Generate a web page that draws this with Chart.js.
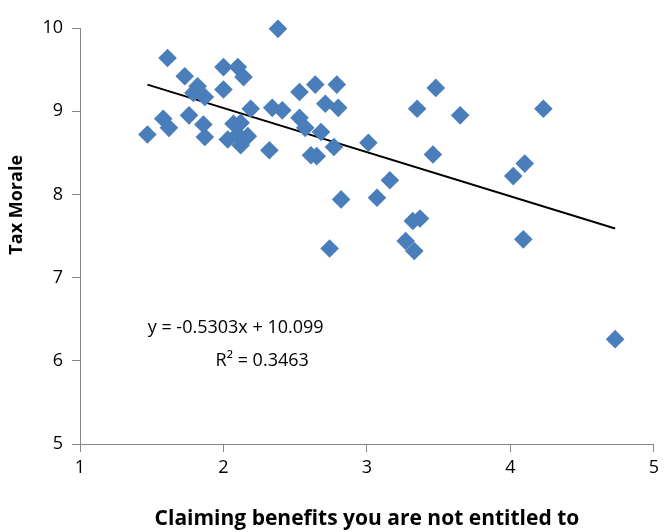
<!DOCTYPE html>
<html>
<head>
<meta charset="utf-8">
<script src="https://cdn.jsdelivr.net/npm/chart.js@4"></script>
<style>
  html, body { margin: 0; padding: 0; background: #fff; }
  #wrap { width: 664px; height: 532px; }
</style>
</head>
<body>
<div id="wrap"><canvas id="chart" width="664" height="532"></canvas></div>
<script>
// claiming benefits (x) vs tax morale (y), one point per country
const claimX = [
  1.47, 1.58, 1.62, 1.61, 1.73, 1.79, 1.82, 1.87, 1.76, 1.86, 1.87,
  2.00, 2.10, 2.14, 2.00, 2.19, 2.34, 2.41, 2.07, 2.12, 2.03, 2.10,
  2.17, 2.12, 2.32, 2.38, 2.53, 2.64, 2.79, 2.71, 2.80, 2.53, 2.57,
  2.68, 2.77, 2.61, 2.65, 3.01, 3.48, 3.35, 3.65, 3.46, 3.16, 2.82,
  3.07, 3.32, 3.37, 2.74, 3.27, 3.33, 4.23, 4.10, 4.02, 4.09, 4.73
];
const taxMorale = [
  8.72, 8.91, 8.80, 9.64, 9.42, 9.22, 9.30, 9.17, 8.95, 8.84, 8.69,
  9.53, 9.53, 9.41, 9.26, 9.03, 9.04, 9.01, 8.85, 8.86, 8.66, 8.72,
  8.70, 8.59, 8.53, 9.99, 9.23, 9.32, 9.32, 9.09, 9.04, 8.92, 8.80,
  8.75, 8.57, 8.47, 8.46, 8.62, 9.28, 9.03, 8.95, 8.48, 8.17, 7.94,
  7.96, 7.68, 7.71, 7.35, 7.44, 7.32, 9.03, 8.37, 8.22, 7.46, 6.26
];

// linear trendline as reported
const slope = -0.5303;
const intercept = 10.099;
const eqLines = ['y = -0.5303x + 10.099', 'R\u00b2 = 0.3463'];

const xTicks = [1, 2, 3, 4, 5];
const yTicks = [5, 6, 7, 8, 9, 10];
const yTitle = 'Tax Morale';

const xMin = Math.min(...claimX);
const xMax = Math.max(...claimX);
const trend = [
  { x: xMin, y: slope * xMin + intercept },
  { x: xMax, y: slope * xMax + intercept }
];

const axisGrey = '#868686';
const font = '"Open Sans", "Liberation Sans", sans-serif';

// equation box + y title (excel puts the y title a bit above centre)
const extraText = {
  id: 'extraText',
  afterDatasetsDraw(chart) {
    const { ctx, scales, chartArea } = chart;
    ctx.save();
    ctx.fillStyle = '#000';
    ctx.font = '18px ' + font;
    ctx.textAlign = 'center';
    ctx.textBaseline = 'middle';
    ctx.fillText(eqLines[0], scales.x.getPixelForValue(2.085), scales.y.getPixelForValue(6.39));
    ctx.fillText(eqLines[1], scales.x.getPixelForValue(2.27), scales.y.getPixelForValue(6.0));

    ctx.font = 'bold 18px ' + font;
    ctx.translate(17, chartArea.top + (chartArea.bottom - chartArea.top) * 0.425);
    ctx.rotate(-Math.PI / 2);
    ctx.fillText(yTitle, 0, 0);
    ctx.restore();
  }
};

new Chart(document.getElementById('chart').getContext('2d'), {
  type: 'scatter',
  data: {
    datasets: [
      {
        label: 'Tax Morale',
        data: claimX.map((x, i) => ({ x, y: taxMorale[i] })),
        pointStyle: 'rectRot',
        pointRadius: 9.3,
        pointHoverRadius: 9.3,
        backgroundColor: '#4A7EBB',
        borderColor: '#4A7EBB',
        borderWidth: 0,
        clip: false
      },
      {
        label: 'Linear',
        type: 'line',
        data: trend,
        borderColor: '#000',
        borderWidth: 2,
        pointRadius: 0,
        fill: false
      }
    ]
  },
  options: {
    responsive: false,
    animation: false,
    layout: { padding: { top: 28, right: 7, left: 0, bottom: 0 } },
    plugins: { legend: { display: false }, tooltip: { enabled: false } },
    scales: {
      x: {
        type: 'linear',
        min: 1,
        max: 5,
        afterBuildTicks: s => { s.ticks = xTicks.map(v => ({ value: v })); },
        afterFit: s => { s.height = 88; },
        grid: { display: true, drawOnChartArea: false, tickLength: 8, color: axisGrey },
        border: { color: axisGrey, width: 1 },
        ticks: { color: '#000', font: { family: font, size: 18 }, padding: 5 },
        title: {
          display: true,
          text: 'Claiming benefits you are not entitled to',
          color: '#000',
          font: { family: font, size: 21, weight: 'bold' },
          padding: { top: 8, bottom: 0 }
        }
      },
      y: {
        type: 'linear',
        min: 5,
        max: 10,
        afterBuildTicks: s => { s.ticks = yTicks.map(v => ({ value: v })); },
        afterFit: s => { s.width = 80; },
        grid: { display: true, drawOnChartArea: false, tickLength: 8, color: axisGrey },
        border: { color: axisGrey, width: 1 },
        ticks: { color: '#000', font: { family: font, size: 18 }, padding: 9 },
        title: { display: false }
      }
    }
  },
  plugins: [extraText]
});
</script>
</body>
</html>
